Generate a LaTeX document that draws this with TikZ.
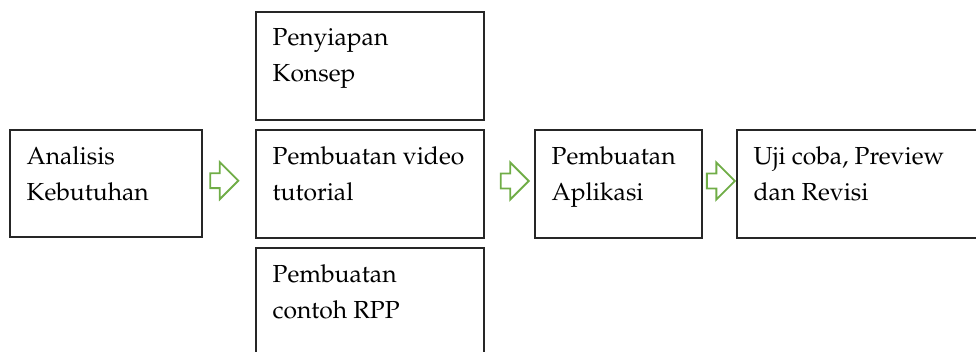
\documentclass[tikz,border=0pt]{standalone}
\usepackage[T1]{fontenc}
\usepackage{mathpazo}
\usetikzlibrary{shapes.arrows,calc}
\definecolor{arrgreen}{HTML}{70AD47}

\begin{document}
\begin{tikzpicture}[x=0.75pt,y=0.75pt,
	box/.style={draw=black!85,line width=1pt,minimum width=171pt,minimum height=81pt,inner sep=0pt},
	lbl/.style={anchor=north west,inner sep=0pt,align=left,font=\fontsize{18.5}{27}\selectfont,execute at begin node=\strut},
	blockarr/.style={single arrow,draw=arrgreen,line width=1.4pt,minimum height=21pt,single arrow head extend=8.3pt,single arrow head indent=0pt,inner xsep=0pt,inner ysep=4.9pt}]
	\useasboundingbox (0,0) rectangle (976,352);
	%
	\node[box,minimum width=144pt,minimum height=80.25pt] (ana) at (106,168.5) {};
	\node[box] (kon) at (370,286) {};
	\node[box] (vid) at (370,168) {};
	\node[box] (rpp) at (370,50) {};
	\node[box,minimum width=125.25pt] (app) at (618.5,168) {};
	\node[box,minimum width=186pt] (uji) at (861,168) {};
	%
	\node[lbl] (anat) at ([shift={(17,-17)}]ana.north west) {Analisis\\Kebutuhan};
	\node[lbl] (kont) at ([shift={(17,-17)}]kon.north west) {Penyiapan\\Konsep};
	\node[lbl] (vidt) at ([shift={(17,-17)}]vid.north west) {Pembuatan video\\tutorial};
	\node[lbl] (rppt) at ([shift={(17,-17)}]rpp.north west) {Pembuatan\\contoh RPP};
	\node[lbl] (appt) at ([shift={(17,-17)}]app.north west) {Pembuatan\\Aplikasi};
	\node[lbl] (ujit) at ([shift={(17,-17)}]uji.north west) {Uji coba, Preview\\dan Revisi};
	%
	\node[blockarr] (ar1) at ($(ana.east)!0.34!(vid.west)+(0,3)$) {};
	\node[blockarr] (ar2) at ($(vid.east)!0.53!(app.west)+(0,3)$) {};
	\node[blockarr] (ar3) at ($(app.east)!0.43!(uji.west)+(0,3)$) {};
\end{tikzpicture}
\end{document}
